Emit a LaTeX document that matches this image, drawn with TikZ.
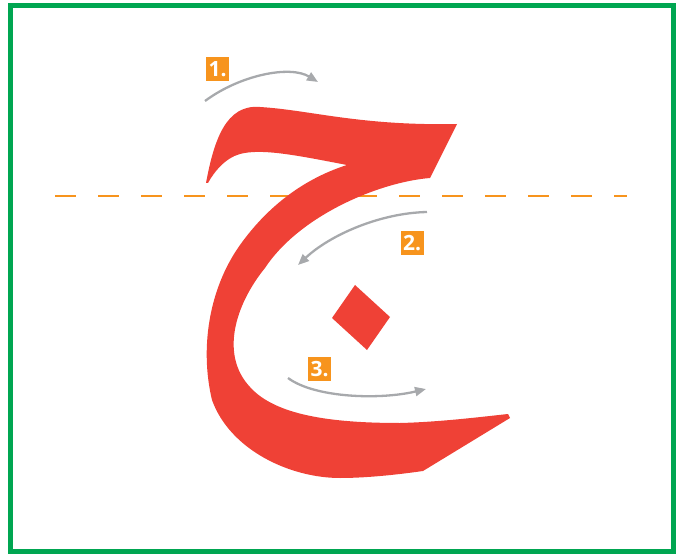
\documentclass[tikz,border=0pt]{standalone}
\usepackage{fontspec}
\setmainfont{Open Sans}
\usetikzlibrary{arrows.meta}
\definecolor{jred}{HTML}{EF4136}
\definecolor{jorange}{HTML}{F7941D}
\definecolor{jgreen}{HTML}{00A651}
\definecolor{jgray}{HTML}{A7A9AC}
\tikzset{
  frame/.style={draw=jgreen,line width=5pt},
  guide/.style={draw=jorange,line width=2.5pt,dash pattern=on 21pt off 22pt},
  letter/.style={fill=jred,draw=none},
  stroke/.style={draw=jgray,line width=2.3pt,-{Triangle[length=11pt,width=9pt]}},
  numlabel/.style={fill=jorange,text=white,font=\fontsize{21}{21}\selectfont\bfseries,
    inner sep=0pt,minimum width=23pt,minimum height=24pt}
}
\begin{document}
\begin{tikzpicture}[x=1pt,y=-1pt]
\useasboundingbox (0,0) rectangle (683,556);
\draw[frame] (10.5,5.5) rectangle (673.5,551.5);
\coordinate (gl) at (55,196);
\coordinate (gr) at (627,196);
\draw[guide] (gl) -- (gr);
% letter jeem
\fill[letter] (206,183) .. controls (214,140) and (226,104) .. (260,107)
  .. controls (310,110) and (360,126) .. (457,124)
  -- (430,178)
  .. controls (380,182) and (300,215) .. (265,268)
  .. controls (235,305) and (220,355) .. (250,387)
  .. controls (275,415) and (330,423) .. (400,423)
  .. controls (440,422) and (480,417) .. (508,414)
  -- (510,418) -- (423,471)
  .. controls (395,475) and (365,478) .. (340,478)
  .. controls (290,478) and (230,450) .. (212,400)
  .. controls (200,350) and (208,290) .. (240,245)
  .. controls (265,210) and (300,180) .. (347,165)
  .. controls (300,156) and (262,148) .. (240,154)
  .. controls (225,158) and (214,172) .. (208,183) -- cycle;
\fill[letter] (355,285) -- (390,317) -- (367,350) -- (332,318) -- cycle;
% strokes
\coordinate (a1s) at (205,101);
\coordinate (a1e) at (318,82);
\coordinate (a2s) at (427,212);
\coordinate (a2e) at (298,265);
\coordinate (a3s) at (288,378);
\coordinate (a3e) at (426,389);
\draw[stroke] (a1s) .. controls (240,75) and (290,65) .. (a1e);
\draw[stroke] (a2s) .. controls (380,213) and (330,235) .. (a2e);
\draw[stroke] (a3s) .. controls (315,398) and (380,400) .. (a3e);
\node[numlabel] (n1) at (217.5,69) {1.};
\node[numlabel] (n2) at (412,243) {2.};
\node[numlabel] (n3) at (319.5,369) {3.};
\end{tikzpicture}
\end{document}
